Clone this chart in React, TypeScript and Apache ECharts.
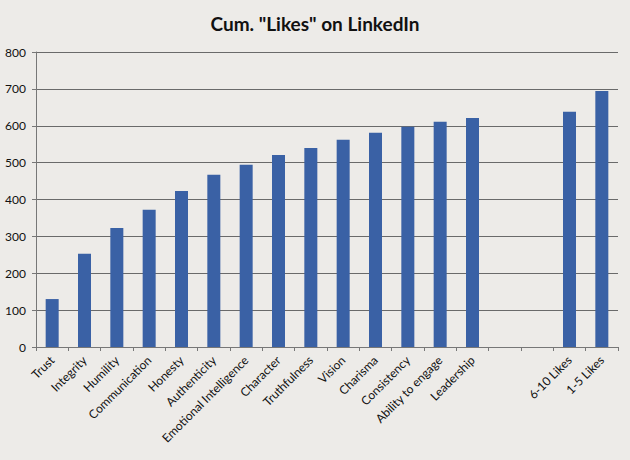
import React, { useEffect, useRef } from "react";
import * as echarts from "echarts";

const categories = [
  "Trust", "Integrity", "Humility", "Communication", "Honesty", "Authenticity",
  "Emotional Intelligence", "Character", "Truthfulness", "Vision", "Charisma",
  "Consistency", "Ability to engage", "Leadership", "", "", "6-10 Likes", "1-5 Likes",
];
const likes: (number | null)[] = [
  130, 253, 323, 372, 423, 467, 494, 521, 540, 562, 581, 597, 611, 621, null, null, 638, 694,
];
const yTicks = { min: 0, max: 800, interval: 100 };
const title = 'Cum. "Likes" on LinkedIn';

export default function App() {
  const ref = useRef<HTMLDivElement>(null);
  useEffect(() => {
    document.body.style.margin = "0";
    const chart = echarts.init(ref.current!, undefined, { renderer: "svg" });
    chart.setOption({
      animation: false,
      backgroundColor: "#edebe8",
      title: {
        text: title,
        left: "center",
        top: 9,
        textStyle: { fontFamily: "Lato", fontWeight: "bold", fontSize: 19, color: "#111" },
      },
      grid: { left: 36, right: 12, top: 52, bottom: 113 },
      xAxis: {
        type: "category",
        data: categories,
        axisLine: { lineStyle: { color: "#777", width: 1 } },
        axisTick: { show: true, alignWithLabel: false, length: 4, lineStyle: { color: "#777" } },
        axisLabel: {
          interval: 0,
          rotate: 45,
          fontFamily: "Lato",
          fontSize: 12,
          color: "#111",
          margin: 11,
        },
      },
      yAxis: {
        type: "value",
        min: yTicks.min,
        max: yTicks.max,
        interval: yTicks.interval,
        axisLine: { show: true, lineStyle: { color: "#777" } },
        axisTick: { show: true, length: 4, lineStyle: { color: "#777" } },
        splitLine: { lineStyle: { color: "#6a6a6a", width: 1 } },
        axisLabel: { fontFamily: "Lato", fontSize: 12, color: "#111", margin: 10 },
      },
      series: [
        {
          type: "bar",
          data: likes,
          barWidth: 13,
          itemStyle: { color: "#3a61a5" },
        },
      ],
    });
    return () => chart.dispose();
  }, []);
  return <div ref={ref} style={{ width: 630, height: 460 }} />;
}
